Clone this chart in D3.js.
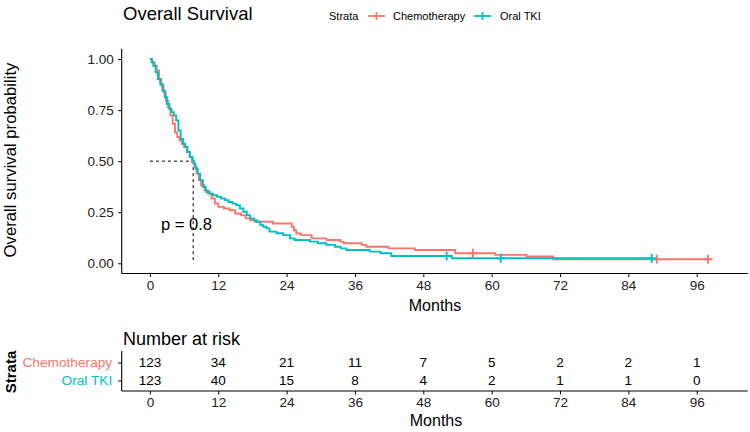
<!DOCTYPE html>
<html><head><meta charset="utf-8">
<script src="https://cdn.jsdelivr.net/npm/d3@7"></script>
<style>body{margin:0;background:#fff}svg{display:block;font-family:"Liberation Sans",Arial,sans-serif}</style>
</head><body><div id="chart"></div>
<script>
const groups = ["Chemotherapy", "Oral TKI"];
const colors = ["#F8766D", "#00BFC4"];
// Kaplan-Meier step points (time in months, survival)
const chemoTimes = [0,0.4,0.8,1.2,1.6,2.0,2.4,2.8,3.2,3.6,4.0,4.4,4.8,5.2,5.6,6.0,6.5,7.0,7.4,7.8,8.2,8.6,9.0,9.6,10.2,10.8,11.4,12.0,13.0,14.0,15.0,16.0,16.8,17.6,18.4,21.6,24.9,25.3,25.7,26.5,28.4,31.0,33.4,34.0,37.2,38.0,41.9,46.5,53.6,60.6,66.1,70.8];
const chemoSurv  = [1,0.984,0.967,0.943,0.902,0.870,0.837,0.797,0.764,0.724,0.683,0.640,0.618,0.602,0.585,0.569,0.545,0.520,0.496,0.472,0.439,0.407,0.382,0.358,0.341,0.317,0.293,0.276,0.268,0.260,0.244,0.236,0.220,0.211,0.203,0.195,0.179,0.162,0.146,0.138,0.122,0.114,0.106,0.098,0.090,0.081,0.073,0.065,0.049,0.041,0.033,0.020];
const chemoEnd = 98;
const chemoCensor = [56.7, 89, 98];
const tkiTimes = [0,0.3,0.6,1.0,1.4,1.8,2.2,2.6,3.0,3.4,3.8,4.2,4.6,5.0,5.4,5.8,6.2,6.6,7.0,7.5,7.7,8.0,8.4,8.8,9.3,9.8,10.5,11.1,11.8,12.5,13.2,13.8,14.5,15.2,15.8,16.4,17.0,17.6,18.3,18.8,19.4,19.9,20.5,21.0,22.2,23.4,24.6,25.4,28.1,29.5,31.0,32.5,33.5,34.5,38.6,40.5,42.4,53.0];
const tkiSurv  = [1,0.984,0.967,0.935,0.902,0.878,0.846,0.813,0.780,0.756,0.740,0.724,0.699,0.650,0.610,0.585,0.569,0.545,0.520,0.504,0.488,0.463,0.439,0.407,0.374,0.350,0.341,0.333,0.325,0.317,0.309,0.300,0.292,0.284,0.268,0.252,0.236,0.220,0.211,0.203,0.187,0.179,0.171,0.155,0.147,0.138,0.122,0.114,0.106,0.098,0.090,0.081,0.073,0.065,0.057,0.049,0.036,0.0245];
const tkiEnd = 88.1;
const tkiCensor = [52.1, 61.6, 88.1];
const riskTimes = [0,12,24,36,48,60,72,84,96];
const riskChemo = [123,34,21,11,7,5,2,2,1];
const riskTki   = [123,40,15,8,4,2,1,1,0];
const yTicks = [0,0.25,0.5,0.75,1];
const medianTime = 7.6;
const pText = "p = 0.8";

const W = 750, H = 432;
const svg = d3.select("#chart").append("svg").attr("width", W).attr("height", H);

const x = d3.scaleLinear().domain([-4.95, 104.95]).range([121.7, 747.7]);
const y = d3.scaleLinear().domain([-0.05, 1.05]).range([273.5, 48.8]);

// Title
svg.append("text").attr("x", 123).attr("y", 19.5).attr("font-size", 18.5).attr("fill", "#000").text("Overall Survival");

// Legend
const lg = svg.append("g").attr("font-size", 11).attr("fill", "#000");
lg.append("text").attr("x", 329).attr("y", 20).text("Strata");
const legItems = [{x: 368, tx: 393}, {x: 474, tx: 500}];
groups.forEach((g, i) => {
  const it = legItems[i];
  lg.append("line").attr("x1", it.x).attr("x2", it.x + 17).attr("y1", 16).attr("y2", 16).attr("stroke", colors[i]).attr("stroke-width", 1.8);
  lg.append("line").attr("x1", it.x + 8.5).attr("x2", it.x + 8.5).attr("y1", 12).attr("y2", 20).attr("stroke", colors[i]).attr("stroke-width", 1.8);
  lg.append("text").attr("x", it.tx).attr("y", 20).text(g);
});

function styleAxis(g) {
  g.select(".domain").attr("stroke", "#000").attr("stroke-width", 1.1);
  g.selectAll(".tick line").attr("stroke", "#000").attr("stroke-width", 1);
  g.selectAll(".tick text").attr("font-size", 13.5).attr("fill", "#222").attr("font-family", "Liberation Sans, Arial, sans-serif");
}

// Axes main
const xAxis = d3.axisBottom(x).tickValues(riskTimes).tickSize(3.5).tickPadding(3);
const gx = svg.append("g").attr("transform", "translate(0,273.5)").call(xAxis);
const yAxis = d3.axisLeft(y).tickValues(yTicks).tickFormat(d3.format(".2f")).tickSize(3.5).tickPadding(4.5);
const gy = svg.append("g").attr("transform", "translate(121.7,0)").call(yAxis);
styleAxis(gx); styleAxis(gy);
gx.select(".domain").attr("d", `M121.7,0H747.7`);
gy.select(".domain").attr("d", `M0,48.8V273.5`);

svg.append("text").attr("x", 435).attr("y", 311).attr("text-anchor", "middle").attr("font-size", 16).text("Months");
svg.append("text").attr("transform", "translate(16,160) rotate(-90)").attr("text-anchor", "middle").attr("font-size", 16.7).text("Overall survival probability");

// Median lines
const med = svg.append("g").attr("stroke", "#000").attr("stroke-width", 1).attr("stroke-dasharray", "3,3").attr("fill", "none");
med.append("line").attr("x1", x(0)).attr("x2", x(medianTime)).attr("y1", y(0.5)).attr("y2", y(0.5));
med.append("line").attr("x1", x(medianTime)).attr("x2", x(medianTime)).attr("y1", y(0.5)).attr("y2", y(0));

// Curves
const series = [
  {t: chemoTimes, s: chemoSurv, end: chemoEnd, c: chemoCensor},
  {t: tkiTimes, s: tkiSurv, end: tkiEnd, c: tkiCensor}
];
const line = d3.line().x(d => x(d[0])).y(d => y(d[1])).curve(d3.curveStepAfter);
function survAt(se, t) {
  let v = 1;
  for (let i = 0; i < se.t.length; i++) if (se.t[i] <= t) v = se.s[i];
  return v;
}
series.forEach((se, i) => {
  const pts = se.t.map((t, k) => [t, se.s[k]]);
  pts.push([se.end, se.s[se.s.length - 1]]);
  svg.append("path").datum(pts).attr("d", line).attr("fill", "none").attr("stroke", colors[i]).attr("stroke-width", 1.9);
  const cg = svg.append("g").attr("stroke", colors[i]).attr("stroke-width", 1.9);
  se.c.forEach(ct => {
    const cx = x(ct), cy = y(survAt(se, ct));
    cg.append("line").attr("x1", cx - 4.5).attr("x2", cx + 4.5).attr("y1", cy).attr("y2", cy);
    cg.append("line").attr("x1", cx).attr("x2", cx).attr("y1", cy - 4.5).attr("y2", cy + 4.5);
  });
});

svg.append("text").attr("x", 161).attr("y", 229.5).attr("font-size", 16.5).text(pText);

// Risk table
svg.append("text").attr("x", 123).attr("y", 345).attr("font-size", 18).text("Number at risk");
const ry = d3.scalePoint().domain(groups).range([362.5, 380.5]);
const rxAxis = d3.axisBottom(x).tickValues(riskTimes).tickSize(3.5).tickPadding(3);
const grx = svg.append("g").attr("transform", "translate(0,391)").call(rxAxis);
const ryAxis = d3.axisLeft(ry).tickSize(3.5).tickPadding(6);
const gry = svg.append("g").attr("transform", "translate(121.7,0)").call(ryAxis);
styleAxis(grx); styleAxis(gry);
grx.select(".domain").attr("d", `M121.7,0H747.7`);
gry.select(".domain").attr("d", `M0,351V391`);
gry.selectAll(".tick text").attr("font-size", 13.7).attr("fill", (d, i) => colors[i]);

const riskData = [riskChemo, riskTki];
groups.forEach((g, gi) => {
  svg.append("g").selectAll("text").data(riskData[gi]).join("text")
    .attr("x", (d, k) => x(riskTimes[k])).attr("y", ry(g)).attr("dy", "0.36em")
    .attr("text-anchor", "middle").attr("font-size", 13.5).attr("fill", "#000").text(d => d);
});
svg.append("text").attr("x", 436).attr("y", 426).attr("text-anchor", "middle").attr("font-size", 16).text("Months");
svg.append("text").attr("transform", "translate(15.5,372) rotate(-90)").attr("text-anchor", "middle").attr("font-size", 15).attr("font-weight", "bold").text("Strata");
</script></body></html>
